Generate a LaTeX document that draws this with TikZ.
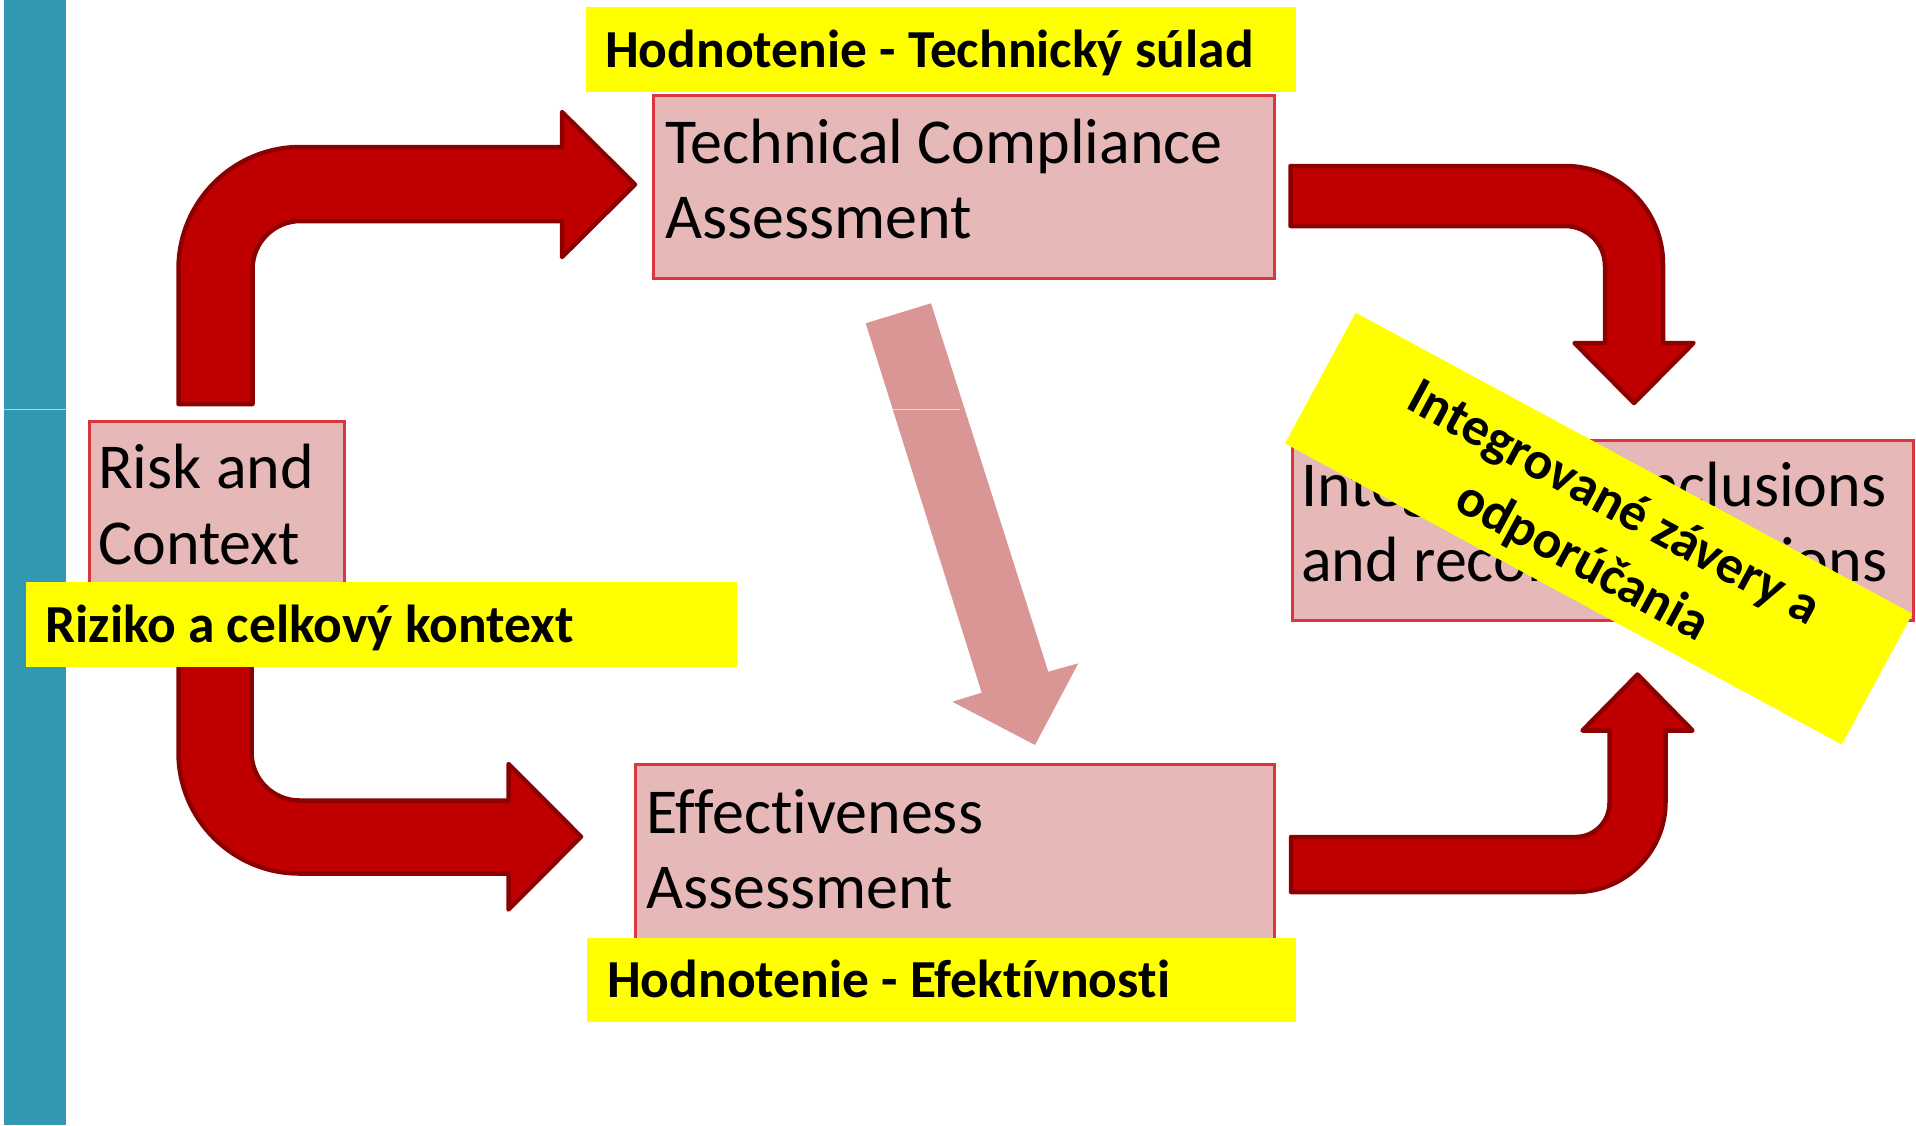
\documentclass[tikz,border=0pt]{standalone}
\usepackage{fontspec}
\setmainfont{Carlito}[Ligatures=NoCommon]
\definecolor{tealbar}{HTML}{3399B3}
\definecolor{arrowred}{HTML}{C00000}
\definecolor{arrowedge}{HTML}{8C0000}
\definecolor{pinkarrow}{HTML}{D99694}
\definecolor{boxfill}{HTML}{E6B9B8}
\definecolor{boxedge}{HTML}{D9363E}
\definecolor{hl}{HTML}{FFFF00}
\begin{document}
\begin{tikzpicture}[x=1pt,y=-1pt,
  blockarrow/.style={fill=arrowred, draw=arrowedge, line width=4.5pt, line join=round},
  stagebox/.style={draw=boxedge, fill=boxfill, line width=2.5pt, inner sep=0pt, anchor=north west},
  boxtext/.style={anchor=base west, inner sep=0pt, font=\fontsize{64}{76}\selectfont},
  tagbox/.style={fill=hl, draw=none, inner sep=0pt},
  tagtext/.style={anchor=base west, inner sep=0pt, font=\fontsize{53.5}{64}\selectfont\bfseries},
]
\useasboundingbox (0,0) rectangle (1916,1125);

% left teal bar
\fill[tealbar] (4,0) rectangle (66,1125);
\draw[white, opacity=0.6, line width=1.2pt] (4,409.3) -- (66,409.3);

% red block arrows
\draw[blockarrow] (178.5,404) -- (178.5,269) .. controls (178.5,201.6) and (233.1,147) .. (300.5,147)
  -- (562,147) -- (562,112) -- (635,184.5) -- (562,257) -- (562,221) -- (300.5,221)
  .. controls (274,221) and (252.5,242.5) .. (252.5,269) -- (252.5,404) -- cycle;

\draw[blockarrow] (178.5,640) -- (178.5,752.5) .. controls (178.5,819.3) and (232.7,873.5) .. (299.5,873.5)
  -- (508.5,873.5) -- (508.5,909.5) -- (581,836.7) -- (508.5,764) -- (508.5,800.5) -- (299.5,800.5)
  .. controls (273,800.5) and (251.5,779) .. (251.5,752.5) -- (251.5,640) -- cycle;

\draw[blockarrow] (1290.5,166) -- (1565,166) .. controls (1619.1,166) and (1663,209.9) .. (1663,264)
  -- (1663,343) -- (1693.5,343) -- (1634,403) -- (1574.5,343) -- (1605,343) -- (1605,266)
  .. controls (1605,243.9) and (1587.1,226) .. (1565,226) -- (1290.5,226) -- cycle;

\draw[blockarrow] (1291,837) -- (1575.5,837) .. controls (1594.3,837) and (1609.5,821.8) .. (1609.5,803)
  -- (1609.5,730.5) -- (1582.5,730.5) -- (1637.5,674.5) -- (1692.5,730.5) -- (1665.5,730.5) -- (1665.5,802)
  .. controls (1665.5,851.7) and (1625.2,892) .. (1575.5,892) -- (1291,892) -- cycle;

% pink diagonal arrow
\fill[pinkarrow] (865.7,323.3) -- (931,303.3) -- (1048.3,671.7) -- (1078.3,663.3) -- (1035,745)
  -- (952.3,701.7) -- (981.7,692.7) -- cycle;
\begin{scope}
  \clip (865.7,323.3) -- (931,303.3) -- (1048.3,671.7) -- (981.7,692.7) -- cycle;
  \draw[white, opacity=0.6, line width=1.2pt] (850,409.3) -- (960,409.3);
\end{scope}

% boxes
\node[stagebox, minimum width=255pt, minimum height=205pt] (risk) at (88,420) {};
\node[stagebox, minimum width=621pt, minimum height=183pt] (tca) at (652,94) {};
\node[stagebox, minimum width=639pt, minimum height=197pt] (eff) at (634,763) {};
\node[stagebox, minimum width=621pt, minimum height=180pt] (integ) at (1291,439) {};

\node[boxtext] (risk1) at (98,488) {Risk and};
\node[boxtext] (risk2) at (98,564) {Context};
\node[boxtext] (tca1) at (665,163) {Technical Compliance};
\node[boxtext] (tca2) at (665,238) {Assessment};
\node[boxtext] (eff1) at (646,833) {Effectiveness};
\node[boxtext] (eff2) at (646,908) {Assessment};
\node[boxtext] (int1) at (1301,506) {Integrated conclusions};
\node[boxtext] (int2) at (1301,581) {and recommendations};

% yellow labels
\node[tagbox, anchor=north west, minimum width=710pt, minimum height=85pt] (tagtca) at (586,7) {};
\node[tagtext] (tagtcatext) at (605,67) {Hodnotenie - Technický súlad};
\node[tagbox, anchor=north west, minimum width=711pt, minimum height=85pt] (tagrisk) at (26,582) {};
\node[tagtext] (tagrisktext) at (45.5,642) {Riziko a celkový kontext};
\node[tagbox, anchor=north west, minimum width=709pt, minimum height=84pt] (tageff) at (587,938) {};
\node[tagtext] (tagefftext) at (607,997) {Hodnotenie - Efektívnosti};

% rotated banner
\node[tagbox, rotate=-28.4, minimum width=633pt, minimum height=148.7pt] (banner) at (1598.7,528.6) {};
\node[rotate=-28.4, align=center, inner sep=0pt, font=\fontsize{53.5}{66}\selectfont\bfseries] (bannertext)
  at (1597.5,533.6) {Integrované závery a\\odporúčania};
\end{tikzpicture}
\end{document}
